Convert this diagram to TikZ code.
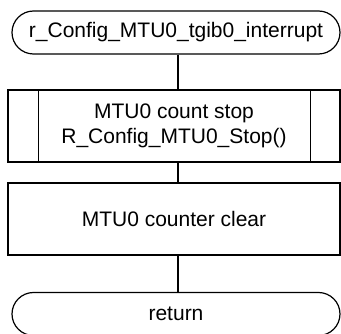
\documentclass[tikz,border=0pt]{standalone}
\usepackage{fontspec}
\setmainfont{Liberation Sans}
\usetikzlibrary{shapes.misc}
\begin{document}
\begin{tikzpicture}[x=1pt,y=-1pt,
  every node/.style={font=\fontsize{21}{25}\selectfont, inner sep=0pt, align=center},
  term/.style={draw, line width=1.2pt, rounded rectangle, minimum width=328pt, minimum height=43pt},
  proc/.style={draw, line width=1.2pt, rectangle, minimum width=332pt, minimum height=72pt},
  conn/.style={line width=1.2pt}]
\useasboundingbox (0,0) rectangle (341,334);
\node[term] (start) at (176,32.5) {r\_Config\_MTU0\_tgib0\_interrupt};
\node[proc] (stop) at (174,126) {MTU0 count stop\\R\_Config\_MTU0\_Stop()};
\draw[conn] ([xshift=31pt]stop.north west) -- ([xshift=31pt]stop.south west);
\draw[conn] ([xshift=-30pt]stop.north east) -- ([xshift=-30pt]stop.south east);
\node[proc] (clear) at (174,219) {MTU0 counter clear};
\node[term] (ret) at (176,314) {return};
\coordinate (cx) at (178,0);
\draw[conn] (start.south -| cx) -- (stop.north -| cx);
\draw[conn] (stop.south -| cx) -- (clear.north -| cx);
\draw[conn] (clear.south -| cx) -- (ret.north -| cx);
\end{tikzpicture}
\end{document}
